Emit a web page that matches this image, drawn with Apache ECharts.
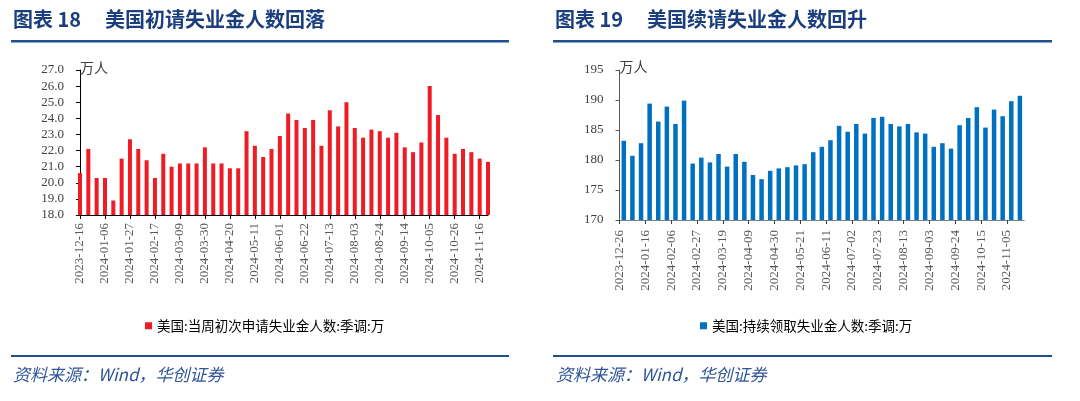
<!DOCTYPE html>
<html>
<head>
<meta charset="utf-8">
<script src="https://cdn.jsdelivr.net/npm/echarts@6/dist/echarts.min.js"></script>
<style>
  html, body { margin: 0; padding: 0; background: #fff; }
  #main { width: 1080px; height: 401px; }
</style>
</head>
<body>
<div id="main"></div>
<script>
// 图表18：初请（周，万人）
const initialDates = [
  '2023-12-16','2023-12-23','2023-12-30','2024-01-06','2024-01-13','2024-01-20','2024-01-27',
  '2024-02-03','2024-02-10','2024-02-17','2024-02-24','2024-03-02','2024-03-09','2024-03-16',
  '2024-03-23','2024-03-30','2024-04-06','2024-04-13','2024-04-20','2024-04-27','2024-05-04',
  '2024-05-11','2024-05-18','2024-05-25','2024-06-01','2024-06-08','2024-06-15','2024-06-22',
  '2024-06-29','2024-07-06','2024-07-13','2024-07-20','2024-07-27','2024-08-03','2024-08-10',
  '2024-08-17','2024-08-24','2024-08-31','2024-09-07','2024-09-14','2024-09-21','2024-09-28',
  '2024-10-05','2024-10-12','2024-10-19','2024-10-26','2024-11-02','2024-11-09','2024-11-16',
  '2024-11-23'
];
const initialClaims = [
  20.6, 22.1, 20.3, 20.3, 18.9, 21.5, 22.7,
  22.1, 21.4, 20.3, 21.8, 21.0, 21.2, 21.2,
  21.2, 22.2, 21.2, 21.2, 20.9, 20.9, 23.2,
  22.3, 21.6, 22.1, 22.9, 24.3, 23.9, 23.4,
  23.9, 22.3, 24.5, 23.5, 25.0, 23.4, 22.8,
  23.3, 23.2, 22.8, 23.1, 22.2, 21.9, 22.5,
  26.0, 24.2, 22.8, 21.8, 22.1, 21.9, 21.5,
  21.3
];

// 图表19：续请（周，万人）
const continuingDates = [
  '2023-12-30','2024-01-06','2024-01-13','2024-01-20','2024-01-27','2024-02-03','2024-02-10',
  '2024-02-17','2024-02-24','2024-03-02','2024-03-09','2024-03-16','2024-03-23','2024-03-30',
  '2024-04-06','2024-04-13','2024-04-20','2024-04-27','2024-05-04','2024-05-11','2024-05-18',
  '2024-05-25','2024-06-01','2024-06-08','2024-06-15','2024-06-22','2024-06-29','2024-07-06',
  '2024-07-13','2024-07-20','2024-07-27','2024-08-03','2024-08-10','2024-08-17','2024-08-24',
  '2024-08-31','2024-09-07','2024-09-14','2024-09-21','2024-09-28','2024-10-05','2024-10-12',
  '2024-10-19','2024-10-26','2024-11-02','2024-11-09','2024-11-16'
];
const continuingClaims = [
  183.2, 180.7, 182.8, 189.4, 186.4, 188.9, 186.0,
  189.9, 179.4, 180.4, 179.6, 181.0, 178.9, 181.0,
  179.7, 177.5, 176.8, 178.2, 178.6, 178.8, 179.1,
  179.3, 181.3, 182.2, 183.3, 185.7, 184.7, 186.0,
  184.4, 187.0, 187.2, 186.0, 185.6, 186.0, 184.6,
  184.4, 182.2, 182.8, 181.9, 185.8, 187.0, 188.8,
  185.4, 188.4, 187.3, 189.8, 190.7
];
const continuingTickLabels = [
  '2023-12-26','2024-01-16','2024-02-06','2024-02-27','2024-03-19','2024-04-09',
  '2024-04-30','2024-05-21','2024-06-11','2024-07-02','2024-07-23','2024-08-13',
  '2024-09-03','2024-09-24','2024-10-15','2024-11-05'
];

const initialName = '美国:当周初次申请失业金人数:季调:万';
const continuingName = '美国:持续领取失业金人数:季调:万';

// 续请的刻度标签落在柱子之间的分界线上，用一条无间隙的类目轴来放
const boundaryLabels = [];
for (let i = 0; i <= continuingDates.length; i++) {
  boundaryLabels.push(i % 3 === 0 && continuingTickLabels[i / 3] ? continuingTickLabels[i / 3] : '');
}

const serif = '"Liberation Serif", "Times New Roman", serif';
const cjk = '"Noto Sans CJK SC", sans-serif';
const navy = '#1B3F7E';

let myChart = echarts.init(document.getElementById('main'));
myChart.setOption({
  animation: false,
  backgroundColor: '#fff',
  grid: [
    { left: 80, top: 70, width: 408, height: 145 },
    { left: 619.5, top: 70, width: 404.7, height: 150 }
  ],
  xAxis: [
    {
      type: 'category', gridIndex: 0, data: initialDates, boundaryGap: false,
      axisLine: { lineStyle: { color: '#000', width: 1 } },
      axisTick: { interval: 2, length: 4, lineStyle: { color: '#000' } },
      axisLabel: { interval: 2, rotate: 90, margin: 8, fontSize: 13, color: '#595959', fontFamily: serif }
    },
    {
      type: 'category', gridIndex: 1, data: continuingDates, boundaryGap: true, position: 'bottom',
      axisLine: { lineStyle: { color: '#7f7f7f', width: 1 } },
      axisTick: { show: false },
      axisLabel: { show: false }
    },
    {
      type: 'category', gridIndex: 1, data: boundaryLabels, boundaryGap: false, position: 'bottom',
      axisLine: { show: false },
      axisTick: { interval: function (i) { return i % 3 === 0 && i < continuingDates.length; }, length: 4, lineStyle: { color: '#404040' } },
      axisLabel: { interval: 0, rotate: 90, margin: 10, fontSize: 13, color: '#595959', fontFamily: serif }
    }
  ],
  yAxis: [
    {
      type: 'value', gridIndex: 0, min: 18, max: 27, interval: 1,
      name: '万人', nameLocation: 'end', nameGap: 2,
      nameTextStyle: { align: 'left', verticalAlign: 'middle', fontSize: 14, color: '#404040', fontFamily: cjk },
      axisLine: { show: true, lineStyle: { color: '#000' } },
      axisTick: { show: true, length: 4, lineStyle: { color: '#000' } },
      splitLine: { show: false },
      axisLabel: { margin: 16, fontSize: 13, color: '#404040', fontFamily: serif,
        formatter: function (v) { return v.toFixed(1); } }
    },
    {
      type: 'value', gridIndex: 1, min: 170, max: 195, interval: 5,
      name: '万人', nameLocation: 'end', nameGap: 3,
      nameTextStyle: { align: 'left', verticalAlign: 'middle', fontSize: 14, color: '#404040', fontFamily: cjk },
      axisLine: { show: true, lineStyle: { color: '#595959' } },
      axisTick: { show: true, length: 4, lineStyle: { color: '#595959' } },
      splitLine: { show: false },
      axisLabel: { margin: 16, fontSize: 13, color: '#404040', fontFamily: serif }
    }
  ],
  legend: [
    {
      data: [initialName], left: 140, top: 314, icon: 'rect', itemWidth: 7, itemHeight: 7,
      textStyle: { fontSize: 13.5, color: '#000', fontFamily: cjk }
    },
    {
      data: [continuingName], left: 695, top: 314, icon: 'rect', itemWidth: 7, itemHeight: 7,
      textStyle: { fontSize: 13.5, color: '#000', fontFamily: cjk }
    }
  ],
  series: [
    {
      name: initialName, type: 'bar', xAxisIndex: 0, yAxisIndex: 0,
      data: initialClaims, barWidth: 4,
      itemStyle: { color: '#EE1C25' }
    },
    {
      name: continuingName, type: 'bar', xAxisIndex: 1, yAxisIndex: 1,
      data: continuingClaims, barWidth: 4.5,
      itemStyle: { color: '#0070C0' }
    }
  ],
  graphic: [
    { type: 'text', left: 13, top: 9, style: { text: '图表 18', font: 'bold 20px ' + cjk, fill: navy } },
    { type: 'text', left: 105, top: 9, style: { text: '美国初请失业金人数回落', font: 'bold 20px ' + cjk, fill: navy } },
    { type: 'text', left: 555, top: 9, style: { text: '图表 19', font: 'bold 20px ' + cjk, fill: navy } },
    { type: 'text', left: 647, top: 9, style: { text: '美国续请失业金人数回升', font: 'bold 20px ' + cjk, fill: navy } },
    { type: 'rect', shape: { x: 11, y: 40, width: 498, height: 2.5 }, style: { fill: '#1F4E8F' } },
    { type: 'rect', shape: { x: 553, y: 40, width: 499, height: 2.5 }, style: { fill: '#1F4E8F' } },
    { type: 'rect', shape: { x: 11, y: 355, width: 498, height: 2 }, style: { fill: '#1F4E8F' } },
    { type: 'rect', shape: { x: 553, y: 355, width: 499, height: 2 }, style: { fill: '#1F4E8F' } },
    { type: 'text', left: 13, top: 366, style: { text: '资料来源：Wind，华创证券', font: 'italic 17px ' + cjk, fill: '#2F5597' } },
    { type: 'text', left: 556, top: 366, style: { text: '资料来源：Wind，华创证券', font: 'italic 17px ' + cjk, fill: '#2F5597' } }
  ]
});
</script>
</body>
</html>
